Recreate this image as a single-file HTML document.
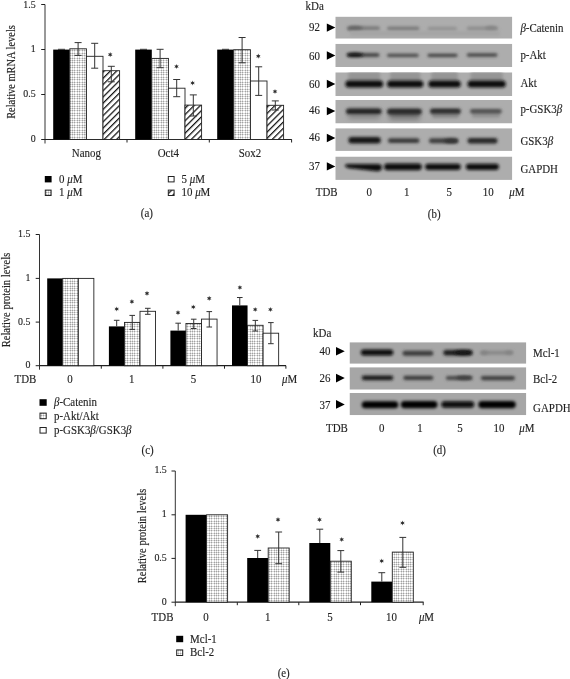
<!DOCTYPE html><html><head><meta charset="utf-8"><style>html,body{margin:0;padding:0;background:#fff;width:570px;height:679px;overflow:hidden}svg{display:block;filter:grayscale(1)}text{font-family:"Liberation Serif",serif;fill:#231f20;stroke:#231f20;stroke-width:0.15px}</style></head><body>
<svg width="570" height="679" viewBox="0 0 570 679">
<defs>
<pattern id="dot" width="12" height="12" patternUnits="userSpaceOnUse"><rect width="12" height="12" fill="#fff"/><rect x="0" width="1" height="12" fill="#d8d8d8"/><rect y="0" width="12" height="1" fill="#d8d8d8"/><rect x="2" width="1" height="12" fill="#d8d8d8"/><rect y="2" width="12" height="1" fill="#d8d8d8"/><rect x="5" width="1" height="12" fill="#d8d8d8"/><rect y="5" width="12" height="1" fill="#d8d8d8"/><rect x="7" width="1" height="12" fill="#d8d8d8"/><rect y="7" width="12" height="1" fill="#d8d8d8"/><rect x="10" width="1" height="12" fill="#d8d8d8"/><rect y="10" width="12" height="1" fill="#d8d8d8"/><rect x="0" y="0" width="1" height="1" fill="#a2a2a2"/><rect x="0" y="2" width="1" height="1" fill="#a2a2a2"/><rect x="0" y="5" width="1" height="1" fill="#a2a2a2"/><rect x="0" y="7" width="1" height="1" fill="#a2a2a2"/><rect x="0" y="10" width="1" height="1" fill="#a2a2a2"/><rect x="2" y="0" width="1" height="1" fill="#a2a2a2"/><rect x="2" y="2" width="1" height="1" fill="#a2a2a2"/><rect x="2" y="5" width="1" height="1" fill="#a2a2a2"/><rect x="2" y="7" width="1" height="1" fill="#a2a2a2"/><rect x="2" y="10" width="1" height="1" fill="#a2a2a2"/><rect x="5" y="0" width="1" height="1" fill="#a2a2a2"/><rect x="5" y="2" width="1" height="1" fill="#a2a2a2"/><rect x="5" y="5" width="1" height="1" fill="#a2a2a2"/><rect x="5" y="7" width="1" height="1" fill="#a2a2a2"/><rect x="5" y="10" width="1" height="1" fill="#a2a2a2"/><rect x="7" y="0" width="1" height="1" fill="#a2a2a2"/><rect x="7" y="2" width="1" height="1" fill="#a2a2a2"/><rect x="7" y="5" width="1" height="1" fill="#a2a2a2"/><rect x="7" y="7" width="1" height="1" fill="#a2a2a2"/><rect x="7" y="10" width="1" height="1" fill="#a2a2a2"/><rect x="10" y="0" width="1" height="1" fill="#a2a2a2"/><rect x="10" y="2" width="1" height="1" fill="#a2a2a2"/><rect x="10" y="5" width="1" height="1" fill="#a2a2a2"/><rect x="10" y="7" width="1" height="1" fill="#a2a2a2"/><rect x="10" y="10" width="1" height="1" fill="#a2a2a2"/></pattern>
<pattern id="hatch" width="4.4" height="4.4" patternUnits="userSpaceOnUse" patternTransform="rotate(45)"><rect width="4.4" height="4.4" fill="#fff"/><rect x="0" width="1.25" height="4.4" fill="#111"/></pattern>
<filter id="b1" x="-30%" y="-150%" width="160%" height="400%"><feGaussianBlur stdDeviation="1.35"/></filter>
<filter id="b2" x="-30%" y="-150%" width="160%" height="400%"><feGaussianBlur stdDeviation="1.8"/></filter>
<filter id="b3" x="-30%" y="-150%" width="160%" height="400%"><feGaussianBlur stdDeviation="2.6"/></filter>

</defs>
<line x1="45.00" y1="4.50" x2="45.00" y2="143.50" stroke="#333" stroke-width="1"/>
<line x1="41.20" y1="4.50" x2="45.00" y2="4.50" stroke="#231f20" stroke-width="1"/>
<text transform="translate(35.60,7.70) scale(0.91,1)" font-size="10.90" text-anchor="end" >1.5</text>
<line x1="41.20" y1="49.50" x2="45.00" y2="49.50" stroke="#231f20" stroke-width="1"/>
<text transform="translate(35.60,51.90) scale(0.91,1)" font-size="10.90" text-anchor="end" >1</text>
<line x1="41.20" y1="94.50" x2="45.00" y2="94.50" stroke="#231f20" stroke-width="1"/>
<text transform="translate(35.60,96.90) scale(0.91,1)" font-size="10.90" text-anchor="end" >0.5</text>
<line x1="41.20" y1="139.50" x2="45.00" y2="139.50" stroke="#231f20" stroke-width="1"/>
<text transform="translate(35.60,141.90) scale(0.91,1)" font-size="10.90" text-anchor="end" >0</text>
<line x1="45.00" y1="139.50" x2="291.80" y2="139.50" stroke="#231f20" stroke-width="1.2"/>
<line x1="127.00" y1="139.50" x2="127.00" y2="142.50" stroke="#231f20" stroke-width="1"/>
<line x1="209.30" y1="139.50" x2="209.30" y2="142.50" stroke="#231f20" stroke-width="1"/>
<line x1="291.60" y1="139.50" x2="291.60" y2="142.50" stroke="#231f20" stroke-width="1"/>
<text transform="translate(15.2,72) rotate(-90) scale(0.91,1)" font-size="11.45" text-anchor="middle">Relative mRNA levels</text>
<rect x="53.20" y="49.60" width="16.60" height="89.90" fill="#000"/>
<rect x="69.80" y="48.80" width="16.60" height="90.70" fill="url(#dot)" stroke="#222" stroke-width="0.9"/>
<rect x="86.40" y="56.30" width="16.60" height="83.20" fill="#fff" stroke="#222" stroke-width="0.9"/>
<rect x="103.00" y="70.70" width="16.60" height="68.80" fill="url(#hatch)" stroke="#222" stroke-width="0.9"/>
<line x1="58.00" y1="49.30" x2="65.00" y2="49.30" stroke="#333" stroke-width="1"/>
<line x1="78.10" y1="42.60" x2="78.10" y2="55.40" stroke="#333" stroke-width="1"/>
<line x1="74.60" y1="42.60" x2="81.60" y2="42.60" stroke="#333" stroke-width="1"/>
<line x1="74.60" y1="55.40" x2="81.60" y2="55.40" stroke="#333" stroke-width="1"/>
<line x1="94.70" y1="43.30" x2="94.70" y2="68.20" stroke="#333" stroke-width="1"/>
<line x1="91.20" y1="43.30" x2="98.20" y2="43.30" stroke="#333" stroke-width="1"/>
<line x1="91.20" y1="68.20" x2="98.20" y2="68.20" stroke="#333" stroke-width="1"/>
<line x1="111.30" y1="66.30" x2="111.30" y2="81.80" stroke="#333" stroke-width="1"/>
<line x1="107.80" y1="66.30" x2="114.80" y2="66.30" stroke="#333" stroke-width="1"/>
<line x1="107.80" y1="81.80" x2="114.80" y2="81.80" stroke="#333" stroke-width="1"/>
<polygon points="110.20,52.00 109.58,53.52 107.95,53.30 108.95,54.60 107.95,55.90 109.58,55.68 110.20,57.20 110.83,55.68 112.45,55.90 111.45,54.60 112.45,53.30 110.83,53.52" fill="#4a4a4a"/>
<circle cx="110.20" cy="54.60" r="0.9" fill="#2a2a2a"/>
<rect x="135.20" y="49.60" width="16.60" height="89.90" fill="#000"/>
<rect x="151.80" y="58.40" width="16.60" height="81.10" fill="url(#dot)" stroke="#222" stroke-width="0.9"/>
<rect x="168.40" y="88.20" width="16.60" height="51.30" fill="#fff" stroke="#222" stroke-width="0.9"/>
<rect x="185.00" y="105.10" width="16.60" height="34.40" fill="url(#hatch)" stroke="#222" stroke-width="0.9"/>
<line x1="140.00" y1="49.30" x2="147.00" y2="49.30" stroke="#333" stroke-width="1"/>
<line x1="160.10" y1="49.30" x2="160.10" y2="67.70" stroke="#333" stroke-width="1"/>
<line x1="156.60" y1="49.30" x2="163.60" y2="49.30" stroke="#333" stroke-width="1"/>
<line x1="156.60" y1="67.70" x2="163.60" y2="67.70" stroke="#333" stroke-width="1"/>
<line x1="176.70" y1="79.50" x2="176.70" y2="96.70" stroke="#333" stroke-width="1"/>
<line x1="173.20" y1="79.50" x2="180.20" y2="79.50" stroke="#333" stroke-width="1"/>
<line x1="173.20" y1="96.70" x2="180.20" y2="96.70" stroke="#333" stroke-width="1"/>
<polygon points="176.50,63.90 175.88,65.42 174.25,65.20 175.25,66.50 174.25,67.80 175.88,67.58 176.50,69.10 177.12,67.58 178.75,67.80 177.75,66.50 178.75,65.20 177.12,65.42" fill="#4a4a4a"/>
<circle cx="176.50" cy="66.50" r="0.9" fill="#2a2a2a"/>
<line x1="193.30" y1="94.90" x2="193.30" y2="116.00" stroke="#333" stroke-width="1"/>
<line x1="189.80" y1="94.90" x2="196.80" y2="94.90" stroke="#333" stroke-width="1"/>
<line x1="189.80" y1="116.00" x2="196.80" y2="116.00" stroke="#333" stroke-width="1"/>
<polygon points="192.60,80.40 191.97,81.92 190.35,81.70 191.35,83.00 190.35,84.30 191.97,84.08 192.60,85.60 193.22,84.08 194.85,84.30 193.85,83.00 194.85,81.70 193.22,81.92" fill="#4a4a4a"/>
<circle cx="192.60" cy="83.00" r="0.9" fill="#2a2a2a"/>
<rect x="217.20" y="49.60" width="16.60" height="89.90" fill="#000"/>
<rect x="233.80" y="49.70" width="16.60" height="89.80" fill="url(#dot)" stroke="#222" stroke-width="0.9"/>
<rect x="250.40" y="81.00" width="16.60" height="58.50" fill="#fff" stroke="#222" stroke-width="0.9"/>
<rect x="267.00" y="105.30" width="16.60" height="34.20" fill="url(#hatch)" stroke="#222" stroke-width="0.9"/>
<line x1="222.00" y1="49.30" x2="229.00" y2="49.30" stroke="#333" stroke-width="1"/>
<line x1="242.10" y1="37.50" x2="242.10" y2="62.80" stroke="#333" stroke-width="1"/>
<line x1="238.60" y1="37.50" x2="245.60" y2="37.50" stroke="#333" stroke-width="1"/>
<line x1="238.60" y1="62.80" x2="245.60" y2="62.80" stroke="#333" stroke-width="1"/>
<line x1="258.70" y1="66.80" x2="258.70" y2="95.40" stroke="#333" stroke-width="1"/>
<line x1="255.20" y1="66.80" x2="262.20" y2="66.80" stroke="#333" stroke-width="1"/>
<line x1="255.20" y1="95.40" x2="262.20" y2="95.40" stroke="#333" stroke-width="1"/>
<polygon points="258.30,53.60 257.68,55.12 256.05,54.90 257.05,56.20 256.05,57.50 257.68,57.28 258.30,58.80 258.93,57.28 260.55,57.50 259.55,56.20 260.55,54.90 258.93,55.12" fill="#4a4a4a"/>
<circle cx="258.30" cy="56.20" r="0.9" fill="#2a2a2a"/>
<line x1="275.30" y1="100.90" x2="275.30" y2="110.00" stroke="#333" stroke-width="1"/>
<line x1="271.80" y1="100.90" x2="278.80" y2="100.90" stroke="#333" stroke-width="1"/>
<line x1="271.80" y1="110.00" x2="278.80" y2="110.00" stroke="#333" stroke-width="1"/>
<polygon points="275.00,88.90 274.38,90.42 272.75,90.20 273.75,91.50 272.75,92.80 274.38,92.58 275.00,94.10 275.62,92.58 277.25,92.80 276.25,91.50 277.25,90.20 275.62,90.42" fill="#4a4a4a"/>
<circle cx="275.00" cy="91.50" r="0.9" fill="#2a2a2a"/>
<text transform="translate(86.40,157.40) scale(0.91,1)" font-size="11.99" text-anchor="middle" >Nanog</text>
<text transform="translate(168.30,157.40) scale(0.91,1)" font-size="11.99" text-anchor="middle" >Oct4</text>
<text transform="translate(250.00,157.40) scale(0.91,1)" font-size="11.99" text-anchor="middle" >Sox2</text>
<rect x="44.80" y="176.00" width="6.80" height="6.40" fill="#000"/>
<text transform="translate(59.00,182.60) scale(0.91,1)" font-size="11.99" text-anchor="start" >0 <tspan font-style="italic">μ</tspan>M</text>
<rect x="45.30" y="190.10" width="5.80" height="5.40" fill="url(#dot)" stroke="#222" stroke-width="1"/>
<text transform="translate(59.00,196.20) scale(0.91,1)" font-size="11.99" text-anchor="start" >1 <tspan font-style="italic">μ</tspan>M</text>
<rect x="168.30" y="176.50" width="5.80" height="5.40" fill="#fff" stroke="#222" stroke-width="1"/>
<text transform="translate(181.50,182.60) scale(0.91,1)" font-size="11.99" text-anchor="start" >5 <tspan font-style="italic">μ</tspan>M</text>
<rect x="168.30" y="190.10" width="5.80" height="5.40" fill="url(#hatch)" stroke="#222" stroke-width="1"/>
<text transform="translate(181.50,196.20) scale(0.91,1)" font-size="11.99" text-anchor="start" >10 <tspan font-style="italic">μ</tspan>M</text>
<text transform="translate(146.90,217.00) scale(0.91,1)" font-size="11.99" text-anchor="middle" >(a)</text>
<text transform="translate(305.60,9.90) scale(0.91,1)" font-size="11.99" text-anchor="start" >kDa</text>
<svg x="335.30" y="16.60" width="177.00" height="22.10" viewBox="335.30 16.60 177.00 22.10" overflow="hidden">
<rect x="335.30" y="16.60" width="177.00" height="22.10" fill="#adadad"/>
<rect x="347.50" y="26.20" width="32.50" height="4.40" rx="2.20" fill="#7a7a7a" filter="url(#b1)"/>
<ellipse cx="355.00" cy="28.20" rx="8.00" ry="2.20" fill="#646464" filter="url(#b1)"/>
<rect x="387.00" y="26.50" width="32.50" height="4.20" rx="2.10" fill="#7c7c7c" filter="url(#b1)"/>
<rect x="427.50" y="26.80" width="29.50" height="4.00" rx="2.00" fill="#929292" filter="url(#b1)"/>
<rect x="466.70" y="26.50" width="31.60" height="4.20" rx="2.10" fill="#8e8e8e" filter="url(#b1)"/>
<ellipse cx="491.00" cy="28.30" rx="6.00" ry="2.20" fill="#848484" filter="url(#b1)"/>
<rect x="350.00" y="31.00" width="150.00" height="5.00" rx="2" fill="#a4a4a4" filter="url(#b2)"/>
</svg>
<polygon points="326.80,23.45 335.30,27.60 326.80,31.75" fill="#000"/>
<text transform="translate(319.90,31.40) scale(0.91,1)" font-size="11.99" text-anchor="end" >92</text>
<text transform="translate(520.40,32.00) scale(0.91,1)" font-size="11.99" text-anchor="start" ><tspan font-style="italic">β</tspan>-Catenin</text>
<svg x="335.30" y="43.80" width="177.00" height="23.30" viewBox="335.30 43.80 177.00 23.30" overflow="hidden">
<rect x="335.30" y="43.80" width="177.00" height="23.30" fill="#adadad"/>
<rect x="347.00" y="53.35" width="32.50" height="3.30" rx="1.65" fill="#3a3a3a" filter="url(#b1)"/>
<ellipse cx="355.00" cy="54.80" rx="8.50" ry="2.00" fill="#161616" filter="url(#b1)"/>
<rect x="387.00" y="53.70" width="31.70" height="3.20" rx="1.60" fill="#4a4a4a" filter="url(#b1)"/>
<rect x="427.50" y="53.65" width="30.00" height="3.30" rx="1.65" fill="#404040" filter="url(#b1)"/>
<rect x="466.70" y="53.30" width="30.80" height="3.40" rx="1.70" fill="#464646" filter="url(#b1)"/>
</svg>
<polygon points="326.80,51.35 335.30,55.50 326.80,59.65" fill="#000"/>
<text transform="translate(319.90,59.60) scale(0.91,1)" font-size="11.99" text-anchor="end" >60</text>
<text transform="translate(520.40,59.10) scale(0.91,1)" font-size="11.99" text-anchor="start" >p-Akt</text>
<svg x="335.30" y="72.30" width="177.00" height="23.80" viewBox="335.30 72.30 177.00 23.80" overflow="hidden">
<rect x="335.30" y="72.30" width="177.00" height="23.80" fill="#adadad"/>
<rect x="348.30" y="72.00" width="31.90" height="9.00" rx="2" fill="#959595" filter="url(#b2)"/>
<rect x="345.30" y="80.40" width="37.90" height="7.00" rx="3.50" fill="#111111" filter="url(#b1)"/>
<rect x="390.00" y="72.00" width="30.40" height="9.00" rx="2" fill="#959595" filter="url(#b2)"/>
<rect x="387.00" y="80.40" width="36.40" height="7.00" rx="3.50" fill="#111111" filter="url(#b1)"/>
<rect x="431.30" y="72.00" width="26.50" height="9.00" rx="2" fill="#959595" filter="url(#b2)"/>
<rect x="428.30" y="80.40" width="32.50" height="7.00" rx="3.50" fill="#111111" filter="url(#b1)"/>
<rect x="470.50" y="72.00" width="32.30" height="9.00" rx="2" fill="#959595" filter="url(#b2)"/>
<rect x="467.50" y="80.40" width="38.30" height="7.00" rx="3.50" fill="#111111" filter="url(#b1)"/>
</svg>
<polygon points="326.80,79.85 335.30,84.00 326.80,88.15" fill="#000"/>
<text transform="translate(319.90,88.00) scale(0.91,1)" font-size="11.99" text-anchor="end" >60</text>
<text transform="translate(520.40,87.00) scale(0.91,1)" font-size="11.99" text-anchor="start" >Akt</text>
<svg x="335.30" y="100.00" width="177.00" height="23.50" viewBox="335.30 100.00 177.00 23.50" overflow="hidden">
<rect x="335.30" y="100.00" width="177.00" height="23.50" fill="#adadad"/>
<rect x="348.00" y="110.00" width="32.00" height="9.00" rx="2" fill="#888888" filter="url(#b3)"/>
<rect x="346.00" y="108.40" width="35.60" height="5.60" rx="2.80" fill="#222222" filter="url(#b1)"/>
<rect x="389.00" y="110.00" width="31.00" height="10.00" rx="2" fill="#7a7a7a" filter="url(#b3)"/>
<rect x="387.00" y="108.80" width="34.80" height="5.60" rx="2.80" fill="#262626" filter="url(#b1)"/>
<rect x="432.00" y="111.00" width="27.00" height="7.00" rx="2" fill="#8a8a8a" filter="url(#b2)"/>
<rect x="430.00" y="108.60" width="30.80" height="5.20" rx="2.60" fill="#2c2c2c" filter="url(#b1)"/>
<rect x="472.00" y="111.00" width="28.00" height="7.00" rx="2" fill="#959595" filter="url(#b2)"/>
<rect x="470.00" y="109.00" width="31.70" height="4.40" rx="2.20" fill="#4e4e4e" filter="url(#b1)"/>
</svg>
<polygon points="326.80,106.95 335.30,111.10 326.80,115.25" fill="#000"/>
<text transform="translate(319.90,114.30) scale(0.91,1)" font-size="11.99" text-anchor="end" >46</text>
<text transform="translate(520.40,113.20) scale(0.91,1)" font-size="11.99" text-anchor="start" >p-GSK3<tspan font-style="italic">β</tspan></text>
<svg x="335.30" y="128.20" width="177.00" height="22.70" viewBox="335.30 128.20 177.00 22.70" overflow="hidden">
<rect x="335.30" y="128.20" width="177.00" height="22.70" fill="#adadad"/>
<rect x="348.40" y="137.00" width="32.40" height="6.40" rx="3.20" fill="#141414" filter="url(#b1)"/>
<rect x="387.90" y="138.30" width="31.60" height="4.80" rx="2.40" fill="#383838" filter="url(#b1)"/>
<rect x="429.00" y="138.30" width="29.30" height="5.00" rx="2.50" fill="#3c3c3c" filter="url(#b1)"/>
<ellipse cx="451.00" cy="140.90" rx="7.00" ry="2.20" fill="#333333" filter="url(#b1)"/>
<rect x="467.50" y="138.00" width="30.00" height="5.60" rx="2.80" fill="#262626" filter="url(#b1)"/>
</svg>
<polygon points="326.80,133.85 335.30,138.00 326.80,142.15" fill="#000"/>
<text transform="translate(319.90,141.40) scale(0.91,1)" font-size="11.99" text-anchor="end" >46</text>
<text transform="translate(520.40,144.50) scale(0.91,1)" font-size="11.99" text-anchor="start" >GSK3<tspan font-style="italic">β</tspan></text>
<svg x="335.30" y="156.50" width="177.00" height="23.40" viewBox="335.30 156.50 177.00 23.40" overflow="hidden">
<rect x="335.30" y="156.50" width="177.00" height="23.40" fill="#adadad"/>
<path d="M345,165.6 Q345,163.9 348,163.9 L378,164.1 Q382,164.3 382,167.3 Q382,171.2 377,171.2 L352,168.6 Q345,168.2 345,165.6 Z" fill="#0a0a0a" filter="url(#b1)"/>
<rect x="384.00" y="163.40" width="37.80" height="6.80" rx="3.40" fill="#0a0a0a" filter="url(#b1)"/>
<rect x="425.00" y="163.70" width="35.80" height="6.20" rx="3.10" fill="#0e0e0e" filter="url(#b1)"/>
<rect x="465.80" y="163.70" width="33.20" height="6.20" rx="3.10" fill="#101010" filter="url(#b1)"/>
</svg>
<polygon points="326.80,162.25 335.30,166.40 326.80,170.55" fill="#000"/>
<text transform="translate(319.90,170.00) scale(0.91,1)" font-size="11.99" text-anchor="end" >37</text>
<text transform="translate(520.40,172.70) scale(0.91,1)" font-size="11.99" text-anchor="start" >GAPDH</text>
<text transform="translate(315.80,195.80) scale(0.91,1)" font-size="11.99" text-anchor="start" >TDB</text>
<text transform="translate(369.20,195.80) scale(0.91,1)" font-size="11.99" text-anchor="middle" >0</text>
<text transform="translate(406.70,195.80) scale(0.91,1)" font-size="11.99" text-anchor="middle" >1</text>
<text transform="translate(449.30,195.80) scale(0.91,1)" font-size="11.99" text-anchor="middle" >5</text>
<text transform="translate(488.30,195.80) scale(0.91,1)" font-size="11.99" text-anchor="middle" >10</text>
<text transform="translate(509.30,195.80) scale(0.91,1)" font-size="11.99" text-anchor="start" ><tspan font-style="italic">μ</tspan>M</text>
<text transform="translate(434.20,218.00) scale(0.91,1)" font-size="11.99" text-anchor="middle" >(b)</text>
<line x1="39.50" y1="234.50" x2="39.50" y2="369.70" stroke="#333" stroke-width="1"/>
<line x1="35.70" y1="234.50" x2="39.50" y2="234.50" stroke="#231f20" stroke-width="1"/>
<text transform="translate(30.40,236.90) scale(0.91,1)" font-size="10.90" text-anchor="end" >1.5</text>
<line x1="35.70" y1="278.40" x2="39.50" y2="278.40" stroke="#231f20" stroke-width="1"/>
<text transform="translate(30.40,280.80) scale(0.91,1)" font-size="10.90" text-anchor="end" >1</text>
<line x1="35.70" y1="322.10" x2="39.50" y2="322.10" stroke="#231f20" stroke-width="1"/>
<text transform="translate(30.40,324.50) scale(0.91,1)" font-size="10.90" text-anchor="end" >0.5</text>
<line x1="35.70" y1="365.70" x2="39.50" y2="365.70" stroke="#231f20" stroke-width="1"/>
<text transform="translate(30.40,368.10) scale(0.91,1)" font-size="10.90" text-anchor="end" >0</text>
<line x1="39.50" y1="365.70" x2="286.00" y2="365.70" stroke="#231f20" stroke-width="1.2"/>
<line x1="101.30" y1="365.70" x2="101.30" y2="368.70" stroke="#231f20" stroke-width="1"/>
<line x1="162.90" y1="365.70" x2="162.90" y2="368.70" stroke="#231f20" stroke-width="1"/>
<line x1="224.50" y1="365.70" x2="224.50" y2="368.70" stroke="#231f20" stroke-width="1"/>
<line x1="285.90" y1="365.70" x2="285.90" y2="368.70" stroke="#231f20" stroke-width="1"/>
<text transform="translate(10.4,300) rotate(-90) scale(0.91,1)" font-size="11.55" text-anchor="middle">Relative protein levels</text>
<rect x="47.20" y="278.40" width="15.55" height="87.30" fill="#000"/>
<rect x="62.75" y="278.40" width="15.55" height="87.30" fill="url(#dot)" stroke="#222" stroke-width="0.9"/>
<rect x="78.30" y="278.40" width="15.55" height="87.30" fill="#fff" stroke="#222" stroke-width="0.9"/>
<rect x="108.90" y="326.40" width="15.55" height="39.30" fill="#000"/>
<rect x="124.45" y="322.40" width="15.55" height="43.30" fill="url(#dot)" stroke="#222" stroke-width="0.9"/>
<rect x="140.00" y="311.30" width="15.55" height="54.40" fill="#fff" stroke="#222" stroke-width="0.9"/>
<line x1="116.68" y1="320.30" x2="116.68" y2="326.40" stroke="#333" stroke-width="1"/>
<line x1="113.88" y1="320.30" x2="119.48" y2="320.30" stroke="#333" stroke-width="1"/>
<polygon points="116.70,306.40 116.08,307.92 114.45,307.70 115.45,309.00 114.45,310.30 116.08,310.08 116.70,311.60 117.33,310.08 118.95,310.30 117.95,309.00 118.95,307.70 117.33,307.92" fill="#4a4a4a"/>
<circle cx="116.70" cy="309.00" r="0.9" fill="#2a2a2a"/>
<line x1="132.22" y1="315.40" x2="132.22" y2="329.40" stroke="#333" stroke-width="1"/>
<line x1="129.42" y1="315.40" x2="135.03" y2="315.40" stroke="#333" stroke-width="1"/>
<line x1="129.42" y1="329.40" x2="135.03" y2="329.40" stroke="#333" stroke-width="1"/>
<polygon points="131.90,299.10 131.28,300.62 129.65,300.40 130.65,301.70 129.65,303.00 131.28,302.78 131.90,304.30 132.53,302.78 134.15,303.00 133.15,301.70 134.15,300.40 132.53,300.62" fill="#4a4a4a"/>
<circle cx="131.90" cy="301.70" r="0.9" fill="#2a2a2a"/>
<line x1="147.78" y1="308.30" x2="147.78" y2="314.30" stroke="#333" stroke-width="1"/>
<line x1="144.97" y1="308.30" x2="150.58" y2="308.30" stroke="#333" stroke-width="1"/>
<line x1="144.97" y1="314.30" x2="150.58" y2="314.30" stroke="#333" stroke-width="1"/>
<polygon points="147.00,290.80 146.38,292.32 144.75,292.10 145.75,293.40 144.75,294.70 146.38,294.48 147.00,296.00 147.62,294.48 149.25,294.70 148.25,293.40 149.25,292.10 147.62,292.32" fill="#4a4a4a"/>
<circle cx="147.00" cy="293.40" r="0.9" fill="#2a2a2a"/>
<rect x="170.40" y="330.60" width="15.55" height="35.10" fill="#000"/>
<rect x="185.95" y="323.50" width="15.55" height="42.20" fill="url(#dot)" stroke="#222" stroke-width="0.9"/>
<rect x="201.50" y="319.10" width="15.55" height="46.60" fill="#fff" stroke="#222" stroke-width="0.9"/>
<line x1="178.18" y1="323.20" x2="178.18" y2="330.60" stroke="#333" stroke-width="1"/>
<line x1="175.38" y1="323.20" x2="180.98" y2="323.20" stroke="#333" stroke-width="1"/>
<polygon points="178.00,310.10 177.38,311.62 175.75,311.40 176.75,312.70 175.75,314.00 177.38,313.78 178.00,315.30 178.62,313.78 180.25,314.00 179.25,312.70 180.25,311.40 178.62,311.62" fill="#4a4a4a"/>
<circle cx="178.00" cy="312.70" r="0.9" fill="#2a2a2a"/>
<line x1="193.73" y1="319.20" x2="193.73" y2="328.50" stroke="#333" stroke-width="1"/>
<line x1="190.93" y1="319.20" x2="196.53" y2="319.20" stroke="#333" stroke-width="1"/>
<line x1="190.93" y1="328.50" x2="196.53" y2="328.50" stroke="#333" stroke-width="1"/>
<polygon points="193.30,304.40 192.68,305.92 191.05,305.70 192.05,307.00 191.05,308.30 192.68,308.08 193.30,309.60 193.93,308.08 195.55,308.30 194.55,307.00 195.55,305.70 193.93,305.92" fill="#4a4a4a"/>
<circle cx="193.30" cy="307.00" r="0.9" fill="#2a2a2a"/>
<line x1="209.28" y1="311.60" x2="209.28" y2="327.00" stroke="#333" stroke-width="1"/>
<line x1="206.47" y1="311.60" x2="212.08" y2="311.60" stroke="#333" stroke-width="1"/>
<line x1="206.47" y1="327.00" x2="212.08" y2="327.00" stroke="#333" stroke-width="1"/>
<polygon points="209.20,295.80 208.57,297.32 206.95,297.10 207.95,298.40 206.95,299.70 208.57,299.48 209.20,301.00 209.82,299.48 211.45,299.70 210.45,298.40 211.45,297.10 209.82,297.32" fill="#4a4a4a"/>
<circle cx="209.20" cy="298.40" r="0.9" fill="#2a2a2a"/>
<rect x="232.00" y="305.40" width="15.55" height="60.30" fill="#000"/>
<rect x="247.55" y="325.30" width="15.55" height="40.40" fill="url(#dot)" stroke="#222" stroke-width="0.9"/>
<rect x="263.10" y="333.20" width="15.55" height="32.50" fill="#fff" stroke="#222" stroke-width="0.9"/>
<line x1="239.78" y1="297.50" x2="239.78" y2="305.40" stroke="#333" stroke-width="1"/>
<line x1="236.97" y1="297.50" x2="242.58" y2="297.50" stroke="#333" stroke-width="1"/>
<polygon points="239.90,284.90 239.28,286.42 237.65,286.20 238.65,287.50 237.65,288.80 239.28,288.58 239.90,290.10 240.53,288.58 242.15,288.80 241.15,287.50 242.15,286.20 240.53,286.42" fill="#4a4a4a"/>
<circle cx="239.90" cy="287.50" r="0.9" fill="#2a2a2a"/>
<line x1="255.33" y1="320.40" x2="255.33" y2="331.00" stroke="#333" stroke-width="1"/>
<line x1="252.53" y1="320.40" x2="258.12" y2="320.40" stroke="#333" stroke-width="1"/>
<line x1="252.53" y1="331.00" x2="258.12" y2="331.00" stroke="#333" stroke-width="1"/>
<polygon points="255.20,306.90 254.57,308.42 252.95,308.20 253.95,309.50 252.95,310.80 254.57,310.58 255.20,312.10 255.82,310.58 257.45,310.80 256.45,309.50 257.45,308.20 255.82,308.42" fill="#4a4a4a"/>
<circle cx="255.20" cy="309.50" r="0.9" fill="#2a2a2a"/>
<line x1="270.88" y1="322.60" x2="270.88" y2="343.70" stroke="#333" stroke-width="1"/>
<line x1="268.07" y1="322.60" x2="273.68" y2="322.60" stroke="#333" stroke-width="1"/>
<line x1="268.07" y1="343.70" x2="273.68" y2="343.70" stroke="#333" stroke-width="1"/>
<polygon points="270.40,306.90 269.77,308.42 268.15,308.20 269.15,309.50 268.15,310.80 269.77,310.58 270.40,312.10 271.02,310.58 272.65,310.80 271.65,309.50 272.65,308.20 271.02,308.42" fill="#4a4a4a"/>
<circle cx="270.40" cy="309.50" r="0.9" fill="#2a2a2a"/>
<text transform="translate(14.50,382.60) scale(0.91,1)" font-size="11.99" text-anchor="start" >TDB</text>
<text transform="translate(70.00,382.60) scale(0.91,1)" font-size="11.99" text-anchor="middle" >0</text>
<text transform="translate(131.60,382.60) scale(0.91,1)" font-size="11.99" text-anchor="middle" >1</text>
<text transform="translate(193.50,382.60) scale(0.91,1)" font-size="11.99" text-anchor="middle" >5</text>
<text transform="translate(256.00,382.60) scale(0.91,1)" font-size="11.99" text-anchor="middle" >10</text>
<text transform="translate(282.00,382.60) scale(0.91,1)" font-size="11.99" text-anchor="start" ><tspan font-style="italic">μ</tspan>M</text>
<rect x="39.50" y="399.20" width="7.20" height="6.60" fill="#000"/>
<text transform="translate(54.00,406.10) scale(0.91,1)" font-size="11.99" text-anchor="start" ><tspan font-style="italic">β</tspan>-Catenin</text>
<rect x="40.00" y="413.10" width="6.20" height="5.60" fill="url(#dot)" stroke="#222" stroke-width="1"/>
<text transform="translate(54.00,419.50) scale(0.91,1)" font-size="11.99" text-anchor="start" >p-Akt/Akt</text>
<rect x="40.00" y="427.50" width="6.20" height="5.60" fill="#fff" stroke="#222" stroke-width="1"/>
<text transform="translate(54.00,434.00) scale(0.91,1)" font-size="11.99" text-anchor="start" >p-GSK3<tspan font-style="italic">β</tspan>/GSK3<tspan font-style="italic">β</tspan></text>
<text transform="translate(147.60,454.40) scale(0.91,1)" font-size="11.99" text-anchor="middle" >(c)</text>
<text transform="translate(313.10,336.80) scale(0.91,1)" font-size="11.99" text-anchor="start" >kDa</text>
<svg x="349.50" y="342.20" width="176.80" height="21.60" viewBox="349.50 342.20 176.80 21.60" overflow="hidden">
<rect x="349.50" y="342.20" width="176.80" height="21.60" fill="#a6a6a6"/>
<rect x="360.80" y="349.40" width="32.50" height="6.00" rx="3.00" fill="#0c0c0c" filter="url(#b1)"/>
<rect x="402.50" y="350.70" width="30.80" height="5.00" rx="2.50" fill="#3a3a3a" filter="url(#b1)"/>
<rect x="443.30" y="350.00" width="29.20" height="5.40" rx="2.70" fill="#1e1e1e" filter="url(#b1)"/>
<ellipse cx="463.00" cy="352.60" rx="9.00" ry="2.40" fill="#151515" filter="url(#b1)"/>
<rect x="480.80" y="350.80" width="32.50" height="4.00" rx="2.00" fill="#888888" filter="url(#b1)"/>
<ellipse cx="484.00" cy="352.80" rx="4.00" ry="1.80" fill="#828282" filter="url(#b1)"/>
<ellipse cx="509.00" cy="352.50" rx="4.00" ry="1.80" fill="#828282" filter="url(#b1)"/>
</svg>
<polygon points="336.00,346.95 344.75,351.25 336.00,355.55" fill="#000"/>
<text transform="translate(330.50,354.60) scale(0.91,1)" font-size="11.99" text-anchor="end" >40</text>
<text transform="translate(533.10,356.90) scale(0.91,1)" font-size="11.99" text-anchor="start" >Mcl-1</text>
<svg x="349.50" y="367.20" width="176.80" height="22.50" viewBox="349.50 367.20 176.80 22.50" overflow="hidden">
<rect x="349.50" y="367.20" width="176.80" height="22.50" fill="#a6a6a6"/>
<rect x="361.70" y="375.40" width="31.60" height="4.80" rx="2.40" fill="#181818" filter="url(#b1)"/>
<rect x="403.30" y="375.80" width="30.00" height="4.20" rx="2.10" fill="#3a3a3a" filter="url(#b1)"/>
<rect x="445.80" y="376.10" width="26.70" height="3.80" rx="1.90" fill="#4a4a4a" filter="url(#b1)"/>
<ellipse cx="464.00" cy="377.70" rx="8.00" ry="2.00" fill="#3e3e3e" filter="url(#b1)"/>
<rect x="480.80" y="376.00" width="34.20" height="4.20" rx="2.10" fill="#3c3c3c" filter="url(#b1)"/>
</svg>
<polygon points="336.00,373.80 344.75,378.10 336.00,382.40" fill="#000"/>
<text transform="translate(330.50,382.10) scale(0.91,1)" font-size="11.99" text-anchor="end" >26</text>
<text transform="translate(533.10,382.90) scale(0.91,1)" font-size="11.99" text-anchor="start" >Bcl-2</text>
<svg x="349.50" y="393.00" width="176.80" height="22.20" viewBox="349.50 393.00 176.80 22.20" overflow="hidden">
<rect x="349.50" y="393.00" width="176.80" height="22.20" fill="#a6a6a6"/>
<rect x="361.70" y="401.20" width="36.60" height="7.00" rx="3.50" fill="#060606" filter="url(#b1)"/>
<rect x="400.80" y="400.90" width="36.70" height="7.40" rx="3.70" fill="#060606" filter="url(#b1)"/>
<rect x="441.30" y="401.20" width="32.90" height="6.60" rx="3.30" fill="#080808" filter="url(#b1)"/>
<rect x="478.30" y="401.00" width="37.50" height="7.20" rx="3.60" fill="#060606" filter="url(#b1)"/>
</svg>
<polygon points="336.00,400.10 344.75,404.40 336.00,408.70" fill="#000"/>
<text transform="translate(330.50,409.25) scale(0.91,1)" font-size="11.99" text-anchor="end" >37</text>
<text transform="translate(533.10,411.70) scale(0.91,1)" font-size="11.99" text-anchor="start" >GAPDH</text>
<text transform="translate(326.00,432.20) scale(0.91,1)" font-size="11.99" text-anchor="start" >TDB</text>
<text transform="translate(381.60,432.20) scale(0.91,1)" font-size="11.99" text-anchor="middle" >0</text>
<text transform="translate(420.00,432.20) scale(0.91,1)" font-size="11.99" text-anchor="middle" >1</text>
<text transform="translate(460.00,432.20) scale(0.91,1)" font-size="11.99" text-anchor="middle" >5</text>
<text transform="translate(499.00,432.20) scale(0.91,1)" font-size="11.99" text-anchor="middle" >10</text>
<text transform="translate(519.30,432.20) scale(0.91,1)" font-size="11.99" text-anchor="start" ><tspan font-style="italic">μ</tspan>M</text>
<text transform="translate(439.50,453.70) scale(0.91,1)" font-size="11.99" text-anchor="middle" >(d)</text>
<line x1="175.30" y1="471.00" x2="175.30" y2="606.20" stroke="#333" stroke-width="1"/>
<line x1="171.50" y1="471.00" x2="175.30" y2="471.00" stroke="#231f20" stroke-width="1"/>
<text transform="translate(166.80,473.40) scale(0.91,1)" font-size="10.90" text-anchor="end" >1.5</text>
<line x1="171.50" y1="514.80" x2="175.30" y2="514.80" stroke="#231f20" stroke-width="1"/>
<text transform="translate(166.80,517.20) scale(0.91,1)" font-size="10.90" text-anchor="end" >1</text>
<line x1="171.50" y1="558.40" x2="175.30" y2="558.40" stroke="#231f20" stroke-width="1"/>
<text transform="translate(166.80,560.80) scale(0.91,1)" font-size="10.90" text-anchor="end" >0.5</text>
<line x1="171.50" y1="602.20" x2="175.30" y2="602.20" stroke="#231f20" stroke-width="1"/>
<text transform="translate(166.80,604.60) scale(0.91,1)" font-size="10.90" text-anchor="end" >0</text>
<line x1="175.30" y1="602.20" x2="423.60" y2="602.20" stroke="#231f20" stroke-width="1.2"/>
<line x1="237.30" y1="602.20" x2="237.30" y2="605.20" stroke="#231f20" stroke-width="1"/>
<line x1="298.80" y1="602.20" x2="298.80" y2="605.20" stroke="#231f20" stroke-width="1"/>
<line x1="360.50" y1="602.20" x2="360.50" y2="605.20" stroke="#231f20" stroke-width="1"/>
<line x1="423.20" y1="602.20" x2="423.20" y2="605.20" stroke="#231f20" stroke-width="1"/>
<text transform="translate(146.2,536) rotate(-90) scale(0.91,1)" font-size="11.55" text-anchor="middle">Relative protein levels</text>
<rect x="185.60" y="514.80" width="21.00" height="87.40" fill="#000"/>
<rect x="206.60" y="514.80" width="21.00" height="87.40" fill="url(#dot)" stroke="#222" stroke-width="0.9"/>
<rect x="247.20" y="558.00" width="21.00" height="44.20" fill="#000"/>
<rect x="268.20" y="548.00" width="21.00" height="54.20" fill="url(#dot)" stroke="#222" stroke-width="0.9"/>
<line x1="257.70" y1="550.40" x2="257.70" y2="558.00" stroke="#333" stroke-width="1"/>
<line x1="254.30" y1="550.40" x2="261.10" y2="550.40" stroke="#333" stroke-width="1"/>
<polygon points="257.70,533.70 257.07,535.22 255.45,535.00 256.45,536.30 255.45,537.60 257.07,537.38 257.70,538.90 258.32,537.38 259.95,537.60 258.95,536.30 259.95,535.00 258.32,535.22" fill="#4a4a4a"/>
<circle cx="257.70" cy="536.30" r="0.9" fill="#2a2a2a"/>
<line x1="278.70" y1="532.00" x2="278.70" y2="563.70" stroke="#333" stroke-width="1"/>
<line x1="275.30" y1="532.00" x2="282.10" y2="532.00" stroke="#333" stroke-width="1"/>
<line x1="275.30" y1="563.70" x2="282.10" y2="563.70" stroke="#333" stroke-width="1"/>
<polygon points="278.00,517.10 277.38,518.62 275.75,518.40 276.75,519.70 275.75,521.00 277.38,520.78 278.00,522.30 278.62,520.78 280.25,521.00 279.25,519.70 280.25,518.40 278.62,518.62" fill="#4a4a4a"/>
<circle cx="278.00" cy="519.70" r="0.9" fill="#2a2a2a"/>
<rect x="309.30" y="543.00" width="21.00" height="59.20" fill="#000"/>
<rect x="330.30" y="561.20" width="21.00" height="41.00" fill="url(#dot)" stroke="#222" stroke-width="0.9"/>
<line x1="319.80" y1="529.20" x2="319.80" y2="543.00" stroke="#333" stroke-width="1"/>
<line x1="316.40" y1="529.20" x2="323.20" y2="529.20" stroke="#333" stroke-width="1"/>
<polygon points="319.50,517.10 318.88,518.62 317.25,518.40 318.25,519.70 317.25,521.00 318.88,520.78 319.50,522.30 320.12,520.78 321.75,521.00 320.75,519.70 321.75,518.40 320.12,518.62" fill="#4a4a4a"/>
<circle cx="319.50" cy="519.70" r="0.9" fill="#2a2a2a"/>
<line x1="340.80" y1="550.60" x2="340.80" y2="572.10" stroke="#333" stroke-width="1"/>
<line x1="337.40" y1="550.60" x2="344.20" y2="550.60" stroke="#333" stroke-width="1"/>
<line x1="337.40" y1="572.10" x2="344.20" y2="572.10" stroke="#333" stroke-width="1"/>
<polygon points="341.70,536.90 341.07,538.42 339.45,538.20 340.45,539.50 339.45,540.80 341.07,540.58 341.70,542.10 342.32,540.58 343.95,540.80 342.95,539.50 343.95,538.20 342.32,538.42" fill="#4a4a4a"/>
<circle cx="341.70" cy="539.50" r="0.9" fill="#2a2a2a"/>
<rect x="371.30" y="581.60" width="21.00" height="20.60" fill="#000"/>
<rect x="392.30" y="552.10" width="21.00" height="50.10" fill="url(#dot)" stroke="#222" stroke-width="0.9"/>
<line x1="381.80" y1="572.70" x2="381.80" y2="581.60" stroke="#333" stroke-width="1"/>
<line x1="378.40" y1="572.70" x2="385.20" y2="572.70" stroke="#333" stroke-width="1"/>
<polygon points="381.70,558.40 381.07,559.92 379.45,559.70 380.45,561.00 379.45,562.30 381.07,562.08 381.70,563.60 382.32,562.08 383.95,562.30 382.95,561.00 383.95,559.70 382.32,559.92" fill="#4a4a4a"/>
<circle cx="381.70" cy="561.00" r="0.9" fill="#2a2a2a"/>
<line x1="402.80" y1="537.40" x2="402.80" y2="567.30" stroke="#333" stroke-width="1"/>
<line x1="399.40" y1="537.40" x2="406.20" y2="537.40" stroke="#333" stroke-width="1"/>
<line x1="399.40" y1="567.30" x2="406.20" y2="567.30" stroke="#333" stroke-width="1"/>
<polygon points="402.50,520.40 401.88,521.92 400.25,521.70 401.25,523.00 400.25,524.30 401.88,524.08 402.50,525.60 403.12,524.08 404.75,524.30 403.75,523.00 404.75,521.70 403.12,521.92" fill="#4a4a4a"/>
<circle cx="402.50" cy="523.00" r="0.9" fill="#2a2a2a"/>
<text transform="translate(151.60,620.50) scale(0.91,1)" font-size="11.99" text-anchor="start" >TDB</text>
<text transform="translate(205.90,620.50) scale(0.91,1)" font-size="11.99" text-anchor="middle" >0</text>
<text transform="translate(267.80,620.50) scale(0.91,1)" font-size="11.99" text-anchor="middle" >1</text>
<text transform="translate(329.90,620.50) scale(0.91,1)" font-size="11.99" text-anchor="middle" >5</text>
<text transform="translate(391.50,620.50) scale(0.91,1)" font-size="11.99" text-anchor="middle" >10</text>
<text transform="translate(418.90,620.50) scale(0.91,1)" font-size="11.99" text-anchor="start" ><tspan font-style="italic">μ</tspan>M</text>
<rect x="176.20" y="635.80" width="7.00" height="6.40" fill="#000"/>
<text transform="translate(190.10,642.60) scale(0.91,1)" font-size="11.99" text-anchor="start" >Mcl-1</text>
<rect x="176.70" y="649.90" width="6.00" height="5.60" fill="url(#dot)" stroke="#222" stroke-width="1"/>
<text transform="translate(190.10,656.20) scale(0.91,1)" font-size="11.99" text-anchor="start" >Bcl-2</text>
<text transform="translate(283.70,677.40) scale(0.91,1)" font-size="11.99" text-anchor="middle" >(e)</text>
</svg></body></html>
